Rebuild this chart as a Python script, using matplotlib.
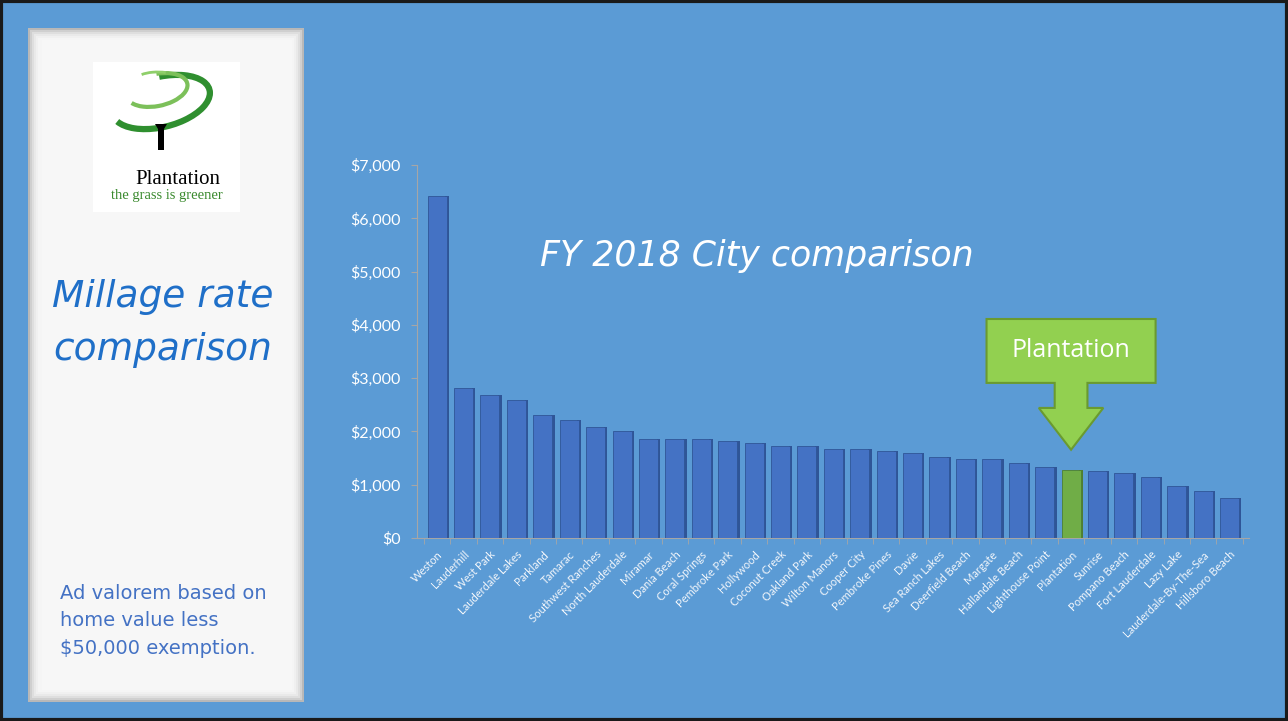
import matplotlib.pyplot as plt
import numpy as np
from matplotlib.patches import Rectangle, Polygon, Arc

cities = ["Weston", "Lauderhill", "West Park", "Lauderdale Lakes", "Parkland", "Tamarac",
          "Southwest Ranches", "North Lauderdale", "Miramar", "Dania Beach", "Coral Springs",
          "Pembroke Park", "Hollywood", "Coconut Creek", "Oakland Park", "Wilton Manors",
          "Cooper City", "Pembroke Pines", "Davie", "Sea Ranch Lakes", "Deerfield Beach",
          "Margate", "Hallandale Beach", "Lighthouse Point", "Plantation", "Sunrise",
          "Pompano Beach", "Fort Lauderdale", "Lazy Lake", "Lauderdale-By-The-Sea",
          "Hillsboro Beach"]
taxes = [6420, 2810, 2690, 2580, 2300, 2210, 2090, 2000, 1860, 1860, 1850,
         1810, 1790, 1730, 1720, 1670, 1660, 1630, 1590, 1510, 1480,
         1480, 1400, 1340, 1280, 1250, 1220, 1150, 970, 880, 740]
highlight = "Plantation"
yticks = [0, 1000, 2000, 3000, 4000, 5000, 6000, 7000]

BG = "#5B9BD5"
fig = plt.figure(figsize=(12.88, 7.21), dpi=100, facecolor=BG)

# decoration layer in pixel coords (y down)
deco = fig.add_axes([0, 0, 1, 1])
deco.set_xlim(0, 1288)
deco.set_ylim(721, 0)
deco.axis("off")
deco.add_patch(Rectangle((1, 1), 1286, 719, fill=False, ec="#1a1a1a", lw=3))

# left white panel with bevel
for i, c in enumerate(["#b8b8b8", "#cfcfcf", "#dedede", "#e9e9e9", "#f0f0f0", "#f5f5f5"]):
    deco.add_patch(Rectangle((28 + i * 2, 28 + i * 2), 276 - i * 4, 674 - i * 4, fc=c, ec="none"))
deco.add_patch(Rectangle((42, 40), 250, 650, fc="#f7f7f7", ec="none"))

# logo
deco.add_patch(Rectangle((93, 62), 147, 150, fc="white", ec="none"))
deco.add_patch(Arc((161, 102), 100, 50, angle=-14, theta1=-80, theta2=170, color="#2f8f2f", lw=4.5))
deco.add_patch(Arc((157, 90), 62, 32, angle=-12, theta1=-80, theta2=165, color="#7cc05a", lw=3))
deco.add_patch(Arc((158, 79), 42, 14, theta1=195, theta2=320, color="#8fcf6a", lw=2))
deco.add_patch(Rectangle((158, 125), 6, 25, fc="black", ec="none"))
deco.add_patch(Polygon([(155, 124), (167, 124), (164, 129), (158, 129)], fc="black", ec="none"))
deco.text(178, 179, "Plantation", family="Liberation Serif", fontsize=15, color="black",
          ha="center", va="center")
deco.text(167, 196, "the grass is greener", family="Liberation Serif", fontsize=10.5,
          color="#3a8a2e", ha="center", va="center")

deco.text(163, 297, "Millage rate", fontsize=27, color="#1F6FC8", ha="center", va="center",
          family="DejaVu Sans", style="italic")
deco.text(163, 350, "comparison", fontsize=27, color="#1F6FC8", ha="center", va="center",
          family="DejaVu Sans", style="italic")
deco.text(60, 621, "Ad valorem based on\nhome value less\n$50,000 exemption.", fontsize=14,
          color="#4472C4", ha="left", va="center", linespacing=1.55, family="DejaVu Sans")

# chart
ax = fig.add_axes([0.324, 0.254, 0.646, 0.517])
ax.set_facecolor("none")
x = np.arange(len(cities))
front = ["#70AD47" if c == highlight else "#4472C4" for c in cities]
side = ["#4E7F31" if c == highlight else "#2F5597" for c in cities]
ax.bar(x + 0.38, taxes, width=0.14, color=side, zorder=2)
ax.bar(x, taxes, width=0.72, color=front, edgecolor=side, linewidth=0.6, zorder=3)

ax.set_xlim(-0.75, len(cities) - 0.25)
ax.set_ylim(0, 7000)
ax.set_yticks(yticks)
ax.set_yticklabels([f"${v:,.0f}" for v in yticks], color="white", fontsize=11.5, family="Lato")
ax.set_xticks(x)
ax.set_xticklabels(cities, rotation=45, ha="right", rotation_mode="anchor",
                   color="#f2f6fb", fontsize=8, family="Lato")
ax.tick_params(axis="x", length=0, pad=8)
ax.tick_params(axis="y", length=4, color="#a6a6a6", pad=8)
ax.set_xticks(np.arange(-0.5, len(cities)), minor=True)
ax.tick_params(axis="x", which="minor", length=4, color="#a6a6a6")
for s in ["top", "right"]:
    ax.spines[s].set_visible(False)
for s in ["left", "bottom"]:
    ax.spines[s].set_color("#a6a6a6")

ax.text(len(cities) * 0.39, 5300, "FY 2018 City comparison", fontsize=25, color="white",
        ha="center", va="center", family="DejaVu Sans", style="italic")

# callout arrow over highlighted city
hi = cities.index(highlight)
hv = taxes[hi]
shape = [(hi - 3.2, hv + 2830), (hi + 3.2, hv + 2830), (hi + 3.2, hv + 1630),
         (hi + 0.62, hv + 1630), (hi + 0.62, hv + 1160), (hi + 1.22, hv + 1160),
         (hi, hv + 375), (hi - 1.22, hv + 1160), (hi - 0.62, hv + 1160),
         (hi - 0.62, hv + 1630), (hi - 3.2, hv + 1630)]
ax.add_patch(Polygon(shape, closed=True, fc="#92D050", ec="#6a9a30", lw=1.5, zorder=4,
                     clip_on=False))
ax.text(hi, hv + 2230, highlight, fontsize=18, color="white", ha="center", va="center",
        family="Open Sans", zorder=5)

fig.savefig("out.png", dpi=100, facecolor=BG)
